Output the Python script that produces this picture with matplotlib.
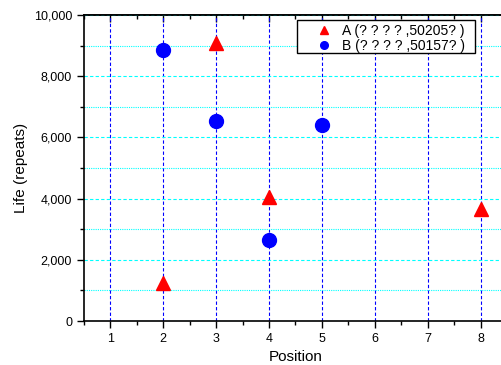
import matplotlib
matplotlib.use('Agg')
import matplotlib.pyplot as plt
from matplotlib.patches import Rectangle
from matplotlib.ticker import MultipleLocator, FuncFormatter
from matplotlib.legend_handler import HandlerLine2D

pos_a = [2, 3, 4, 8]
life_a = [1250, 9100, 4050, 3650]
pos_b = [2, 3, 4, 5]
life_b = [8850, 6550, 2650, 6400]
label_a = "A (? ? ? ? ,50205? )"
label_b = "B (? ? ? ? ,50157? )"

plt.rcParams['font.family'] = ['Liberation Sans', 'DejaVu Sans']


class ShiftedMarker(HandlerLine2D):
    # put the legend marker to the right part of the handle box
    def get_xdata(self, legend, xdescent, ydescent, width, height, fontsize):
        xdata, xm = super().get_xdata(legend, xdescent, ydescent, width, height, fontsize)
        shift = 0.4 * width
        return [x + shift for x in xdata], [m + shift for m in xm]


fig = plt.figure(figsize=(5.02, 3.65), dpi=100)
ax = fig.add_axes([0.167, 0.1205, 0.843, 0.8385])

ax.plot(pos_a, life_a, '^', color='red', markersize=10, label=label_a, zorder=3)
ax.plot(pos_b, life_b, 'o', color='blue', markersize=10, label=label_b, zorder=3)

ax.set_xlim(0.5, 8.5)
ax.set_ylim(0, 10000)
ax.xaxis.set_major_locator(MultipleLocator(1))
ax.xaxis.set_minor_locator(MultipleLocator(0.5))
ax.yaxis.set_major_locator(MultipleLocator(2000))
ax.yaxis.set_minor_locator(MultipleLocator(1000))
ax.yaxis.set_major_formatter(FuncFormatter(lambda v, p: f"{int(v):,}"))

ax.grid(True, which='major', axis='x', color='blue', linestyle=(0, (3, 2)), linewidth=0.8)
ax.grid(True, which='major', axis='y', color='cyan', linestyle=(0, (3, 2)), linewidth=0.8)
ax.grid(True, which='minor', axis='y', color='cyan', linestyle=(0, (1, 1)), linewidth=0.8)

ax.tick_params(which='both', labelsize=9, width=1, direction='out')
ax.tick_params(which='major', length=5)
ax.tick_params(which='minor', length=3)

top = ax.secondary_xaxis('top')
top.xaxis.set_major_locator(MultipleLocator(1))
top.xaxis.set_minor_locator(MultipleLocator(0.5))
top.tick_params(which='both', direction='in', labeltop=False, width=1)
top.tick_params(which='major', length=5)
top.tick_params(which='minor', length=3)
top.spines['top'].set_linewidth(1.2)

for sp in ax.spines.values():
    sp.set_linewidth(1.2)

ax.set_xlabel("Position", fontsize=11, labelpad=4)
ax.set_ylabel("Life (repeats)", fontsize=11)

# legend box drawn separately so it can have the wider right margin of the original
ax.add_patch(Rectangle((0.5035, 0.876), 0.4205, 0.108, transform=ax.transAxes,
                       facecolor='white', edgecolor='black', linewidth=1, zorder=4))
leg = ax.legend(loc='upper left', bbox_to_anchor=(0.5035, 0.978), fontsize=10,
                frameon=False, markerscale=0.55,
                handlelength=2.0, handletextpad=1.1, borderpad=0.15,
                labelspacing=0.1, borderaxespad=0,
                handler_map={plt.Line2D: ShiftedMarker(numpoints=1)})
leg.set_zorder(5)

fig.savefig('out.png', dpi=100)
